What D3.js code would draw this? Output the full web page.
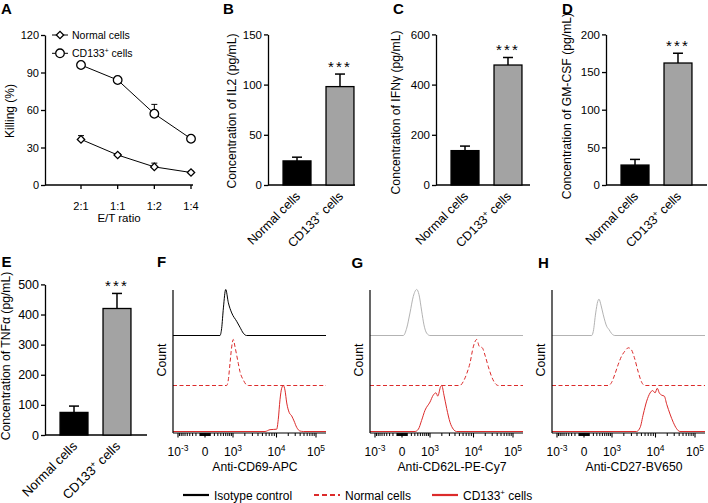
<!DOCTYPE html>
<html>
<head>
<meta charset="utf-8">
<script src="https://cdn.jsdelivr.net/npm/d3@7"></script>
<style>
  body { margin: 0; background: #fff; }
  svg { display: block; }
  text { font-family: "Liberation Sans", Arial, sans-serif; fill: #000; }
</style>
</head>
<body>
<svg id="chart" width="708" height="503"></svg>
<script>
// ---- data ----
const ratios = ["2:1", "1:1", "1:2", "1:4"];
const killNormal = [36.5, 24, 14.5, 10];
const killNormalErr = [3, 1.2, 3, 1];
const killCD133 = [96, 84, 57, 37];
const killCD133Err = [1, 1.5, 7.5, 1.5];

const groups = ["Normal cells", "CD133+ cells"];
const il2 = [24, 98];
const il2Err = [3.7, 12.5];
const ifng = [137, 478];
const ifngErr = [18, 30];
const gmcsf = [26.5, 162];
const gmcsfErr = [7.5, 13];
const tnfa = [75, 420];
const tnfaErr = [21, 50];

// flow cytometry axis
const histTicks = [-1000, 0, 1000, 10000, 100000];
const histTickLabels = ["10^-3", "0", "10^3", "10^4", "10^5"];

// histograms: [fluorescence, relative count]
const cd69Iso = [[370, 0], [430, 0.15], [500, 0.6], [600, 1], [730, 0.71], [920, 0.49], [1250, 0.31], [1520, 0.18], [1840, 0.05], [2200, 0]];
const cd69Normal = [[645, 0], [726, 0.12], [818, 0.48], [918, 0.84], [1018, 1], [1133, 0.84], [1254, 0.66], [1380, 0.48], [1521, 0.3], [1838, 0.12], [2215, 0.01], [2410, 0]];
const cd69CD133 = [[5700, 0], [7300, 0.04], [10100, 0.05], [11100, 0.26], [12300, 0.69], [13600, 0.94], [15000, 1], [16500, 0.9], [18300, 0.62], [21200, 0.41], [24400, 0.34], [28000, 0.23], [32700, 0.09], [39700, 0.01], [48000, 0]];

const cd62Iso = [[23, 0], [89, 0.16], [164, 0.49], [253, 0.85], [361, 1], [444, 0.89], [554, 0.53], [660, 0.23], [800, 0.05], [1000, 0]];
const cd62Normal = [[5100, 0], [6100, 0.09], [7200, 0.26], [8400, 0.48], [9900, 0.84], [12100, 1], [14100, 0.85], [16800, 0.82], [19700, 0.66], [23900, 0.41], [29100, 0.19], [35300, 0.05], [42700, 0]];
const cd62CD133 = [[305, 0], [420, 0.05], [550, 0.24], [710, 0.46], [1000, 0.64], [1220, 0.79], [1440, 0.84], [1590, 0.77], [1880, 0.98], [1990, 1], [2250, 0.79], [2600, 0.5], [3100, 0.2], [3670, 0.05], [4360, 0]];

const cd27Iso = [[157, 0], [198, 0.09], [265, 0.49], [328, 0.74], [371, 0.79], [444, 0.66], [537, 0.45], [695, 0.2], [818, 0.13], [980, 0.04], [1200, 0]];
const cd27Normal = [[780, 0], [980, 0.07], [1200, 0.25], [1460, 0.46], [1770, 0.64], [2130, 0.75], [2550, 0.82], [2940, 0.79], [3490, 0.61], [4270, 0.29], [5070, 0.07], [5980, 0]];
const cd27CD133 = [[3900, 0], [4700, 0.09], [5500, 0.38], [6500, 0.66], [7700, 0.84], [8700, 0.89], [9800, 0.84], [11100, 0.94], [12500, 0.84], [14400, 0.79], [16800, 0.77], [19400, 0.59], [23500, 0.38], [28400, 0.2], [34600, 0.06], [41900, 0]];

const RED = "#dc2b2b";
const svg = d3.select("#chart");

function panelLetter(t, x, y) {
  svg.append("text").attr("x", x).attr("y", y)
    .attr("font-size", 15).attr("font-weight", "bold").text(t);
}

function styleAxis(sel, fs) {
  sel.select(".domain").attr("stroke-width", 1.3);
  sel.selectAll(".tick line").attr("stroke-width", 1.3);
  sel.selectAll(".tick text").attr("font-size", fs)
    .attr("font-family", '"Liberation Sans", Arial, sans-serif');
}

// label with "+" superscript for CD133+
function groupLabel(sel, name, fs) {
  if (name.indexOf("+") < 0) { sel.text(name); return; }
  const parts = name.split("+");
  sel.append("tspan").text(parts[0]);
  sel.append("tspan").attr("dy", -fs * 0.38).attr("font-size", fs * 0.65).text("+");
  sel.append("tspan").attr("dy", fs * 0.38).text(parts[1]);
}

// ---------- A: killing line chart ----------
(function () {
  const x = d3.scalePoint().domain(ratios).range([81, 191]);
  const y = d3.scaleLinear().domain([0, 120]).range([185, 35]);
  const g = svg.append("g");

  const ya = g.append("g").attr("transform", "translate(45,0)")
    .call(d3.axisLeft(y).tickValues([0, 30, 60, 90, 120]).tickSize(4).tickSizeOuter(0).tickPadding(2));
  styleAxis(ya, 11);

  g.append("line").attr("x1", 45).attr("x2", 193).attr("y1", 185).attr("y2", 185)
    .attr("stroke", "#000").attr("stroke-width", 1.3);
  ratios.forEach(r => {
    g.append("line").attr("x1", x(r)).attr("x2", x(r)).attr("y1", 185).attr("y2", 189)
      .attr("stroke", "#000").attr("stroke-width", 1.3);
    g.append("text").attr("x", x(r)).attr("y", 209.5).attr("text-anchor", "middle")
      .attr("font-family", "Lato, 'Open Sans', sans-serif").attr("font-size", 11).text(r);
  });
  g.append("text").attr("x", 119).attr("y", 222).attr("text-anchor", "middle")
    .attr("font-family", "Lato, 'Open Sans', sans-serif").attr("font-size", 11.5).text("E/T ratio");
  g.append("text").attr("transform", "translate(14,111) rotate(-90)").attr("text-anchor", "middle")
    .attr("font-size", 12).text("Killing (%)");

  const line = d3.line().x((d, i) => x(ratios[i])).y(d => y(d));
  const series = [
    { vals: killNormal, err: killNormalErr, sym: d3.symbolSquare, size: 27, rot: 45 },
    { vals: killCD133, err: killCD133Err, sym: d3.symbolCircle, size: 58, rot: 0 }
  ];
  series.forEach(s => {
    g.append("path").attr("d", line(s.vals)).attr("fill", "none").attr("stroke", "#000").attr("stroke-width", 1);
    s.vals.forEach((v, i) => {
      const cx = x(ratios[i]);
      g.append("line").attr("x1", cx).attr("x2", cx).attr("y1", y(v)).attr("y2", y(v + s.err[i]))
        .attr("stroke", "#000").attr("stroke-width", 1);
      g.append("line").attr("x1", cx - 3).attr("x2", cx + 3).attr("y1", y(v + s.err[i])).attr("y2", y(v + s.err[i]))
        .attr("stroke", "#000").attr("stroke-width", 1);
    });
    g.selectAll(null).data(s.vals).join("path")
      .attr("d", d3.symbol(s.sym, s.size))
      .attr("transform", (d, i) => `translate(${x(ratios[i])},${y(d)}) rotate(${s.rot})`)
      .attr("fill", "#fff").attr("stroke", "#000").attr("stroke-width", 1.3);
  });

  // legend
  const leg = [["Normal cells", series[0]], ["CD133+ cells", series[1]]];
  leg.forEach((l, i) => {
    const ly = 35 + i * 18.3;
    g.append("line").attr("x1", 52).attr("x2", 68).attr("y1", ly).attr("y2", ly).attr("stroke", "#000").attr("stroke-width", 1);
    g.append("path").attr("d", d3.symbol(l[1].sym, l[1].size))
      .attr("transform", `translate(60,${ly}) rotate(${l[1].rot})`)
      .attr("fill", "#fff").attr("stroke", "#000").attr("stroke-width", 1.3);
    const t = g.append("text").attr("x", 72).attr("y", ly + 3.8).attr("font-size", 10.5);
    groupLabel(t, l[0], 10.5);
  });
})();

// ---------- B-E: bar charts ----------
function drawBars(p) {
  const g = svg.append("g");
  const y = d3.scaleLinear().domain([0, p.max]).range([p.y0, p.y0 - 150.6]);
  const x = d3.scaleBand().domain(groups).range([p.x0, p.x0 + 101]).paddingInner(0.35).paddingOuter(0.35);

  const ya = g.append("g").attr("transform", `translate(${p.x0},0)`)
    .call(d3.axisLeft(y).tickValues(p.ticks).tickSize(4).tickSizeOuter(0).tickPadding(2));
  styleAxis(ya, p.tickFs);

  g.append("line").attr("x1", p.x0).attr("x2", p.xEnd).attr("y1", p.y0).attr("y2", p.y0)
    .attr("stroke", "#000").attr("stroke-width", 1.3);

  g.selectAll(null).data(groups).join("rect")
    .attr("x", d => x(d)).attr("width", x.bandwidth())
    .attr("y", (d, i) => y(p.vals[i])).attr("height", (d, i) => p.y0 - y(p.vals[i]))
    .attr("fill", (d, i) => i === 0 ? "#000" : "#a3a3a3")
    .attr("stroke", "#000").attr("stroke-width", 1.3);

  groups.forEach((gr, i) => {
    const cx = x(gr) + x.bandwidth() / 2;
    const top = y(p.vals[i] + p.err[i]);
    g.append("line").attr("x1", cx).attr("x2", cx).attr("y1", y(p.vals[i])).attr("y2", top)
      .attr("stroke", "#000").attr("stroke-width", 1.5);
    g.append("line").attr("x1", cx - 5).attr("x2", cx + 5).attr("y1", top).attr("y2", top)
      .attr("stroke", "#000").attr("stroke-width", 1.5);
    const t = g.append("text").attr("text-anchor", "end").attr("font-size", p.catFs)
      .attr("transform", `translate(${cx + 4},${p.y0 + 12}) rotate(-45)`);
    groupLabel(t, gr, p.catFs);
    if (i === 1) {
      g.append("text").attr("x", cx).attr("y", top - 2.5).attr("text-anchor", "middle")
        .attr("font-size", 15).attr("letter-spacing", 2.2).text("***");
    }
  });

  g.append("text").attr("transform", `translate(${p.lx},${p.ly}) rotate(-90)`)
    .attr("text-anchor", "middle").attr("font-size", 12.2).text(p.label);
}

drawBars({ x0: 268, xEnd: 355, y0: 185, max: 150, ticks: [0, 50, 100, 150], vals: il2, err: il2Err,
  label: "Concentration of IL2 (pg/mL)", lx: 235.5, ly: 111, tickFs: 11.5, catFs: 12.5 });
drawBars({ x0: 436, xEnd: 530, y0: 185, max: 600, ticks: [0, 200, 400, 600], vals: ifng, err: ifngErr,
  label: "Concentration of IFNγ (pg/mL)", lx: 399.5, ly: 112.5, tickFs: 11.5, catFs: 12.5 });
drawBars({ x0: 606, xEnd: 707, y0: 185, max: 200, ticks: [0, 50, 100, 150, 200], vals: gmcsf, err: gmcsfErr,
  label: "Concentration of GM-CSF (pg/mL)", lx: 571, ly: 106, tickFs: 11.5, catFs: 12.5 });
drawBars({ x0: 45, xEnd: 147, y0: 435, max: 500, ticks: [0, 100, 200, 300, 400, 500], vals: tnfa, err: tnfaErr,
  label: "Concentration of TNFα (pg/mL)", lx: 9.5, ly: 356, tickFs: 12.5, catFs: 13 });

// ---------- F-H: flow histograms ----------
const histOffsets = [-27, 0, 28, 71.5, 111];
const laneBase = [335.5, 385.5, 431.5];
const laneH = 46;

function drawHist(p) {
  const g = svg.append("g");
  const x = d3.scaleSymlog().constant(350).domain(histTicks).range(histOffsets.map(o => p.zero + o));
  const left = p.zero - 32, right = p.zero + 121, yAxis = 433;
  const dom = [x.invert(left), x.invert(right)];

  const curves = [
    { data: p.iso, color: p.isoColor, dash: null },
    { data: p.normal, color: RED, dash: "4,2.5" },
    { data: p.cd133, color: RED, dash: null }
  ];
  curves.forEach((c, i) => {
    const y = d3.scaleLinear().domain([0, 1]).range([laneBase[i], laneBase[i] - laneH]);
    const pts = [[dom[0], 0]].concat(c.data, [[dom[1], 0]]);
    const line = d3.line().x(d => x(d[0])).y(d => y(d[1])).curve(d3.curveMonotoneX);
    g.append("path").attr("d", line(pts)).attr("fill", "none").attr("stroke", c.color)
      .attr("stroke-width", 1).attr("stroke-dasharray", c.dash);
  });

  g.append("line").attr("x1", left).attr("x2", left).attr("y1", 290).attr("y2", yAxis)
    .attr("stroke", "#000").attr("stroke-width", 1.2);
  g.append("line").attr("x1", left).attr("x2", right).attr("y1", yAxis).attr("y2", yAxis)
    .attr("stroke", "#000").attr("stroke-width", 1.2);

  // minor ticks on the biexponential axis
  const minor = [];
  [1, 2, 3, 4].forEach(k => d3.range(1, 10).forEach(m => {
    minor.push(m * Math.pow(10, k));
    if (k <= 2) minor.push(-m * Math.pow(10, k));
  }));
  g.selectAll(null).data(minor.filter(v => v > dom[0] && v < dom[1] && histTicks.indexOf(v) < 0)).join("line")
    .attr("x1", d => x(d)).attr("x2", d => x(d)).attr("y1", yAxis).attr("y2", yAxis + 3)
    .attr("stroke", "#000").attr("stroke-width", 1);
  histTicks.forEach((v, i) => {
    g.append("line").attr("x1", x(v)).attr("x2", x(v)).attr("y1", yAxis).attr("y2", yAxis + 4.5)
      .attr("stroke", "#000").attr("stroke-width", 1.1);
    const parts = histTickLabels[i].split("^");
    const t = g.append("text").attr("x", x(v)).attr("y", 455.5).attr("text-anchor", "middle").attr("font-size", 12);
    t.append("tspan").text(parts[0]);
    if (parts[1]) t.append("tspan").attr("dy", -5).attr("font-size", 8.5).text(parts[1]);
  });

  g.append("text").attr("x", p.zero + 50).attr("y", 471).attr("text-anchor", "middle")
    .attr("font-size", 12.2).text(p.title);
  g.append("text").attr("transform", `translate(${left - 7.5},360) rotate(-90)`)
    .attr("text-anchor", "middle").attr("font-size", 12.4).text("Count");
}

drawHist({ zero: 205, iso: cd69Iso, normal: cd69Normal, cd133: cd69CD133, isoColor: "#000", title: "Anti-CD69-APC" });
drawHist({ zero: 402, iso: cd62Iso, normal: cd62Normal, cd133: cd62CD133, isoColor: "#b3b3b3", title: "Anti-CD62L-PE-Cy7" });
drawHist({ zero: 584, iso: cd27Iso, normal: cd27Normal, cd133: cd27CD133, isoColor: "#b3b3b3", title: "Anti-CD27-BV650" });

// bottom legend
const legendItems = [
  { name: "Isotype control", color: "#000", dash: null, x: 183 },
  { name: "Normal cells", color: RED, dash: "5,3", x: 314 },
  { name: "CD133+ cells", color: RED, dash: null, x: 432 }
];
legendItems.forEach(l => {
  svg.append("line").attr("x1", l.x).attr("x2", l.x + 26).attr("y1", 495).attr("y2", 495)
    .attr("stroke", l.color).attr("stroke-width", 2.2).attr("stroke-dasharray", l.dash);
  const t = svg.append("text").attr("x", l.x + 31).attr("y", 499.5).attr("font-size", 12);
  groupLabel(t, l.name, 12);
});

panelLetter("A", 1, 14);
panelLetter("B", 223, 14);
panelLetter("C", 393, 14);
panelLetter("D", 562, 14);
panelLetter("E", 1.5, 267);
panelLetter("F", 157, 267);
panelLetter("G", 351.5, 268);
panelLetter("H", 538, 268);
</script>
</body>
</html>
